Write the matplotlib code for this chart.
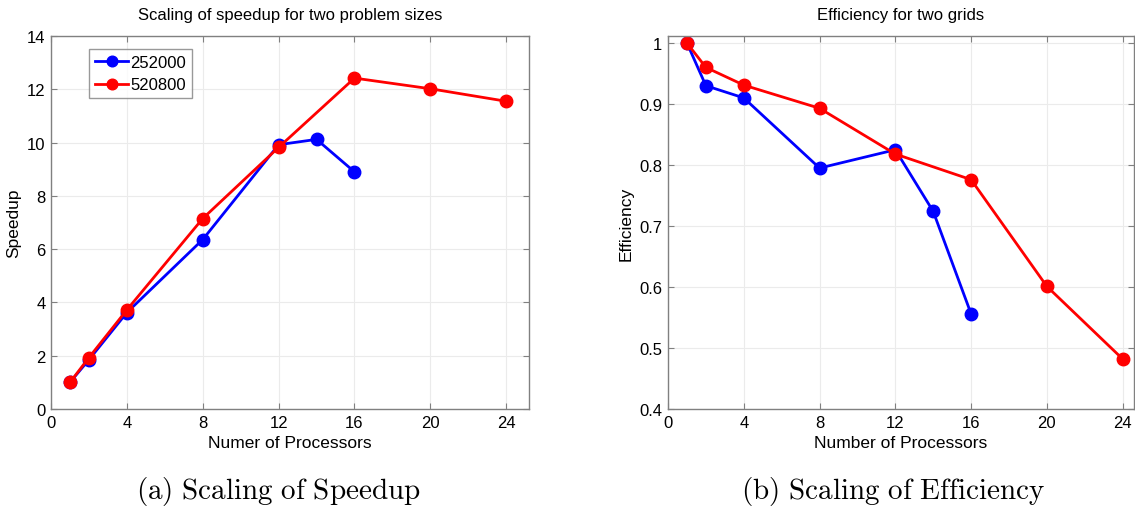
import matplotlib.pyplot as plt
import numpy as np

plt.rcParams['font.family'] = ['Liberation Sans', 'DejaVu Sans']
plt.rcParams['mathtext.fontset'] = 'cm'

procs_small = [1, 2, 4, 8, 12, 14, 16]
procs_large = [1, 2, 4, 8, 12, 16, 20, 24]
speedup_small = [1.0, 1.85, 3.62, 6.36, 9.92, 10.12, 8.90]
speedup_large = [1.0, 1.93, 3.72, 7.15, 9.82, 12.42, 12.02, 11.55]
eff_small = [1.0, 0.93, 0.91, 0.795, 0.825, 0.724, 0.556]
eff_large = [1.0, 0.96, 0.931, 0.893, 0.818, 0.776, 0.601, 0.482]
labels = ["252000", "520800"]
xticks = [0, 4, 8, 12, 16, 20, 24]

fig = plt.figure(figsize=(11.35, 5.1), dpi=100)
W, H = 1135, 510
ax1 = fig.add_axes([51 / W, 1 - 410 / H, (529 - 51) / W, (410 - 37) / H])
ax2 = fig.add_axes([668 / W, 1 - 410 / H, (1134 - 668) / W, (410 - 37) / H])


def style(ax):
    ax.grid(True, color='#ebebeb', linewidth=0.8)
    ax.set_axisbelow(True)
    for s in ax.spines.values():
        s.set_color('#808080')
        s.set_linewidth(1.0)
    ax.tick_params(direction='in', top=True, right=True, labelsize=12,
                   color='#808080', length=4, pad=4)
    ax.set_xticks(xticks)


ax1.plot(procs_small, speedup_small, 'b-o', lw=2, ms=9, label=labels[0])
ax1.plot(procs_large, speedup_large, 'r-o', lw=2, ms=9, label=labels[1])
ax1.set_xlim(0, 25.2)
ax1.set_ylim(0, 14)
ax1.set_yticks(np.arange(0, 15, 2))
style(ax1)
ax1.set_title("Scaling of speedup for two problem sizes", fontsize=12, pad=12)
ax1.set_xlabel("Numer of Processors", fontsize=12.5, labelpad=4)
ax1.set_ylabel("Speedup", fontsize=12.5, labelpad=4)
leg = ax1.legend(loc='upper left', bbox_to_anchor=(0.08, 0.965), fontsize=12,
                 handlelength=2.0, handletextpad=0.1, borderpad=0.35,
                 labelspacing=0.45, fancybox=False, borderaxespad=0,
                 markerscale=0.85)
leg.get_frame().set_edgecolor('#808080')
leg.get_frame().set_linewidth(1.0)

ax2.plot(procs_small, eff_small, 'b-o', lw=2, ms=9)
ax2.plot(procs_large, eff_large, 'r-o', lw=2, ms=9)
ax2.set_xlim(0, 24.6)
ax2.set_ylim(0.4, 1.0115)
ax2.set_yticks([0.4, 0.5, 0.6, 0.7, 0.8, 0.9, 1.0])
ax2.set_yticklabels(["0.4", "0.5", "0.6", "0.7", "0.8", "0.9", "1"])
style(ax2)
ax2.set_title("Efficiency for two grids", fontsize=12, pad=12)
ax2.set_xlabel("Number of Processors", fontsize=12.5, labelpad=4)
ax2.set_ylabel("Efficiency", fontsize=12.5, labelpad=4)

fig.text(278 / W, 1 - 492 / H, r"$\mathrm{(a)\ Scaling\ of\ Speedup}$",
         ha='center', va='center', fontsize=21)
fig.text(893 / W, 1 - 492 / H, r"$\mathrm{(b)\ Scaling\ of\ Efficiency}$",
         ha='center', va='center', fontsize=21)

plt.savefig('out.png', dpi=100)
